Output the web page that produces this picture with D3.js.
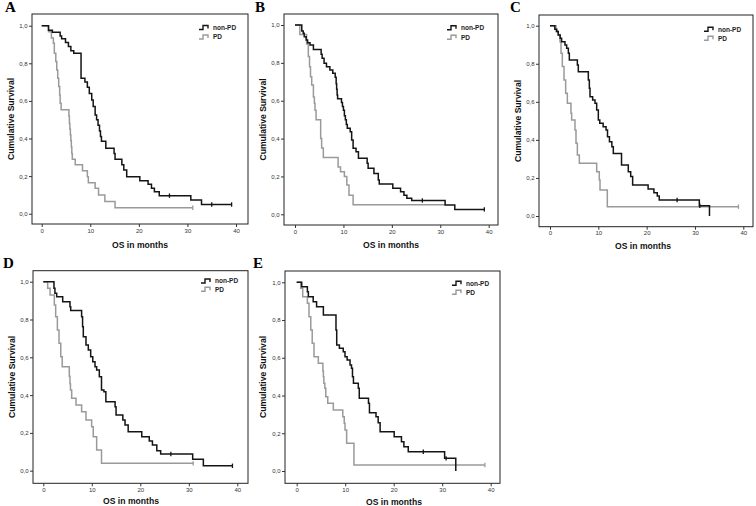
<!DOCTYPE html>
<html><head><meta charset="utf-8">
<script src="https://cdn.jsdelivr.net/npm/d3@7"></script>
<style>body{margin:0;background:#fff}svg{display:block}</style>
</head><body><svg id="c" width="756" height="506"></svg>
<script>
// ---------- data ----------
const xTicks = [0, 10, 20, 30, 40];
const yTicks = [0, 0.2, 0.4, 0.6, 0.8, 1.0];
const seriesNames = ["non-PD", "PD"];
const panelLetters = ["A", "B", "C", "D", "E"];
const xLabel = "OS in months";
const yLabel = "Cumulative Survival";

// [time (months), cumulative survival] at each step
const aNonPD = [[0,1],[1.4,0.976],[2.2,0.965],[3.8,0.945],[4.1,0.93],[4.9,0.91],[5.5,0.89],[6.0,0.867],[6.6,0.853],[8.1,0.72],[8.9,0.70],[9.4,0.672],[9.8,0.64],[10.3,0.605],[10.6,0.57],[11.0,0.525],[11.3,0.50],[11.6,0.47],[11.9,0.44],[12.1,0.41],[12.3,0.385],[13.2,0.348],[14.9,0.32],[15.1,0.29],[16.5,0.26],[16.9,0.232],[17.5,0.197],[20.2,0.175],[21.9,0.157],[22.6,0.135],[23.2,0.117],[24.2,0.096],[30.7,0.073],[32.9,0.049],[39.1,0.049]];
const aPD = [[0,1],[1.4,0.968],[2.0,0.935],[2.4,0.906],[2.6,0.853],[2.9,0.809],[3.1,0.764],[3.3,0.72],[3.5,0.676],[3.7,0.631],[3.8,0.587],[4.0,0.553],[5.6,0.52],[5.7,0.48],[5.8,0.45],[5.9,0.42],[6.0,0.39],[6.1,0.355],[6.2,0.32],[6.3,0.29],[6.9,0.26],[8.4,0.229],[9.4,0.196],[9.6,0.164],[11.0,0.135],[11.7,0.10],[13.0,0.065],[15.1,0.032],[31.1,0.032]];
const aNonPDCens = [26.3, 35.0, 39.1];
const aPDCens = [31.1];

const bNonPD = [[0,1],[1.4,0.968],[1.7,0.956],[1.9,0.938],[2.3,0.921],[2.6,0.906],[3.1,0.894],[3.8,0.87],[5.4,0.845],[5.6,0.824],[6.0,0.798],[6.5,0.78],[7.2,0.762],[7.8,0.745],[8.3,0.724],[8.5,0.69],[8.6,0.66],[8.7,0.63],[8.8,0.61],[9.6,0.59],[9.8,0.57],[10.0,0.55],[10.2,0.52],[10.4,0.50],[10.6,0.475],[10.8,0.454],[11.4,0.436],[11.7,0.392],[12.0,0.349],[12.6,0.331],[13.1,0.296],[14.9,0.27],[15.1,0.243],[16.3,0.216],[17.2,0.181],[17.4,0.16],[20.2,0.137],[21.8,0.119],[22.5,0.10],[23.1,0.085],[24.1,0.073],[31.0,0.049],[33.0,0.026],[39.1,0.026]];
const bPD = [[0,1],[1.0,0.95],[2.4,0.90],[2.75,0.833],[3.0,0.78],[3.2,0.727],[3.45,0.683],[3.8,0.62],[4.0,0.587],[4.13,0.55],[4.35,0.50],[5.3,0.40],[5.5,0.35],[5.85,0.30],[8.9,0.25],[9.4,0.225],[10.2,0.20],[10.7,0.155],[11.15,0.10],[12.0,0.05],[31.0,0.05]];
const bNonPDCens = [26.3, 39.1];
const bPDCens = [];

const cNonPD = [[0,1],[1.0,0.981],[1.4,0.969],[1.7,0.951],[2.1,0.934],[2.4,0.916],[3.1,0.899],[3.45,0.881],[3.8,0.855],[4.0,0.82],[5.66,0.793],[5.86,0.758],[7.93,0.715],[8.14,0.671],[8.28,0.627],[8.83,0.61],[9.31,0.592],[9.66,0.557],[10.0,0.504],[10.3,0.487],[11.0,0.469],[11.6,0.452],[11.9,0.417],[12.3,0.39],[12.8,0.364],[13.1,0.329],[14.8,0.268],[16.2,0.233],[16.7,0.207],[17.1,0.163],[20.3,0.142],[21.5,0.122],[22.2,0.105],[22.6,0.084],[30.9,0.054],[33.0,0]];
const cPD = [[0,1],[1.24,0.969],[1.72,0.951],[2.07,0.916],[2.28,0.855],[2.55,0.785],[2.9,0.715],[3.24,0.645],[3.59,0.592],[4.34,0.54],[4.48,0.504],[5.17,0.452],[5.38,0.382],[5.66,0.32],[6.07,0.277],[9.66,0.233],[10.2,0.189],[10.35,0.137],[11.86,0.049],[39.0,0.049]];
const cNonPDCens = [26.3, 31.0];
const cPDCens = [39.0];

const dNonPD = [[0,1],[2.2,0.965],[2.4,0.939],[2.76,0.921],[4.0,0.894],[5.5,0.868],[5.65,0.847],[7.9,0.815],[8.1,0.762],[8.25,0.709],[8.8,0.665],[9.28,0.638],[9.77,0.603],[10.2,0.577],[10.66,0.55],[11.0,0.533],[11.55,0.497],[12.0,0.427],[12.5,0.418],[12.9,0.365],[14.8,0.339],[15.0,0.295],[16.4,0.268],[16.85,0.242],[17.5,0.206],[20.3,0.18],[21.85,0.157],[22.5,0.136],[23.4,0.106],[24.2,0.088],[30.8,0.06],[33.0,0.026],[39.0,0.026]];
const dPD = [[0,1],[0.9,0.965],[1.4,0.929],[2.27,0.877],[2.55,0.815],[2.9,0.744],[3.24,0.674],[3.6,0.603],[3.9,0.55],[5.36,0.50],[5.5,0.46],[5.6,0.427],[5.85,0.383],[6.74,0.348],[7.9,0.312],[8.8,0.268],[9.97,0.233],[10.3,0.18],[11.0,0.11],[12.0,0.039],[30.9,0.039]];
const dNonPDCens = [26.3, 39.0];
const dPDCens = [30.9];

const eNonPD = [[0,1],[1.03,0.977],[2.2,0.95],[2.4,0.924],[3.4,0.897],[4.1,0.871],[5.5,0.827],[8.1,0.747],[8.25,0.668],[8.8,0.65],[9.6,0.632],[9.96,0.606],[10.4,0.588],[11.0,0.562],[11.3,0.544],[11.5,0.5],[11.7,0.465],[12.7,0.438],[12.9,0.385],[14.8,0.359],[15.0,0.309],[16.35,0.288],[16.8,0.256],[17.2,0.208],[20.1,0.182],[21.6,0.155],[22.1,0.129],[23.0,0.102],[30.5,0.067],[32.8,0]];
const ePD = [[0,1],[0.82,0.968],[1.24,0.924],[2.2,0.889],[2.54,0.818],[2.9,0.747],[3.2,0.677],[3.57,0.606],[4.46,0.571],[5.4,0.53],[5.5,0.50],[5.6,0.465],[5.8,0.438],[6.0,0.394],[6.4,0.359],[7.55,0.323],[9.5,0.288],[9.8,0.253],[9.96,0.217],[10.3,0.147],[11.8,0.032],[38.8,0.032]];
const eNonPDCens = [26.1, 30.8];
const ePDCens = [38.8];

// ---------- layout ----------
const panels = [
  {letter: panelLetters[0], lp:[5,12],   frame:[32,14,248,224],      xr:[41.7,236],   yr:[213.7,25.7], leg:[213,27.5,37],    xlab:[140,248], ylab:[11,119],  non:aNonPD, pd:aPD, nonC:aNonPDCens, pdC:aPDCens},
  {letter: panelLetters[1], lp:[255,12], frame:[284,14,498,225],     xr:[295,488.7],  yr:[214.3,25],   leg:[461,27.7,37.3],  xlab:[391,248], ylab:[263,119.5], non:bNonPD, pd:bPD, nonC:bNonPDCens, pdC:bPDCens},
  {letter: panelLetters[2], lp:[510,12], frame:[539,15,753,226.7],   xr:[550,743.3],  yr:[216,25.7],   leg:[718,29.3,38.3],  xlab:[643,249], ylab:[518,121], non:cNonPD, pd:cPD, nonC:cNonPDCens, pdC:cPDCens},
  {letter: panelLetters[3], lp:[3,268],  frame:[33,270.7,248,483.3], xr:[43.3,237.3], yr:[470.7,281.7],leg:[215,281,289.3],  xlab:[131,504], ylab:[12,377],  non:dNonPD, pd:dPD, nonC:dNonPDCens, pdC:dPDCens},
  {letter: panelLetters[4], lp:[253,268],frame:[285,271,500,483.3],  xr:[296.7,490.7],yr:[471,282.3],  leg:[466,283.3,292.3],xlab:[394,505], ylab:[263,377], non:eNonPD, pd:ePD, nonC:eNonPDCens, pdC:ePDCens}
];

const BLACK = "#141414", GRAY = "#9a9a9a";
const SANS = "'Liberation Sans', Arial, sans-serif";
const svg = d3.select("#c");
svg.append("rect").attr("width",756).attr("height",506).attr("fill","#fff");
const fmt = v => d3.format(".1f")(v).replace(".", ",");

function survAt(series, t) {
  let s = series[0][1];
  for (const [ti, si] of series) { if (ti <= t + 1e-9) s = si; }
  return s;
}

panels.forEach(p => {
  const g = svg.append("g");
  const [fl, ft, fr, fb] = p.frame;
  const x = d3.scaleLinear().domain([0, 40]).range(p.xr);
  const y = d3.scaleLinear().domain([0, 1]).range(p.yr);

  g.append("text").attr("x", p.lp[0]).attr("y", p.lp[1])
    .attr("font-family", "'Liberation Serif','Times New Roman',serif").attr("font-weight", "bold")
    .attr("font-size", 15).attr("fill", "#000").text(p.letter);

  g.append("rect").attr("x", fl).attr("y", ft).attr("width", fr - fl).attr("height", fb - ft)
    .attr("fill", "none").attr("stroke", "#222").attr("stroke-width", 1);

  const ya = g.append("g").attr("transform", `translate(${fl},0)`)
    .call(d3.axisLeft(y).tickValues(yTicks).tickSize(3).tickPadding(1.5).tickFormat(fmt));
  ya.select(".domain").remove();
  ya.selectAll("text").attr("font-family", SANS).attr("font-size", 6).attr("fill", "#333");
  ya.selectAll("line").attr("stroke", "#333");

  const xa = g.append("g").attr("transform", `translate(0,${fb})`)
    .call(d3.axisBottom(x).tickValues(xTicks).tickSize(3).tickPadding(1.5).tickFormat(d3.format("d")));
  xa.select(".domain").remove();
  xa.selectAll("text").attr("font-family", SANS).attr("font-size", 6).attr("fill", "#333");
  xa.selectAll("line").attr("stroke", "#333");

  g.append("text").attr("x", p.xlab[0]).attr("y", p.xlab[1]).attr("text-anchor", "middle")
    .attr("font-family", SANS).attr("font-weight", "bold").attr("font-size", 8.6).attr("fill", "#111").text(xLabel);
  g.append("text").attr("transform", `translate(${p.ylab[0]},${p.ylab[1]}) rotate(-90)`)
    .attr("dy", "0.35em").attr("text-anchor", "middle")
    .attr("font-family", SANS).attr("font-weight", "bold").attr("font-size", 8.6).attr("fill", "#111").text(yLabel);

  const line = d3.line().x(d => x(d[0])).y(d => y(d[1])).curve(d3.curveStepAfter);
  const drawSeries = (data, cens, color) => {
    g.append("path").datum(data).attr("d", line).attr("fill", "none")
      .attr("stroke", color).attr("stroke-width", 1.5);
    g.selectAll(null).data(cens).enter().append("line")
      .attr("x1", d => x(d)).attr("x2", d => x(d))
      .attr("y1", d => y(survAt(data, d)) - 2.2).attr("y2", d => y(survAt(data, d)) + 2.2)
      .attr("stroke", color).attr("stroke-width", 1.3);
  };
  drawSeries(p.pd, p.pdC, GRAY);
  drawSeries(p.non, p.nonC, BLACK);

  // legend
  const legColors = [BLACK, GRAY];
  [p.leg[1], p.leg[2]].forEach((ly, i) => {
    const sx = p.leg[0] - 14;
    g.append("path").attr("d", `M${sx},${ly + 2} H${sx + 4} V${ly - 2} H${sx + 9} V${ly + 1}`)
      .attr("fill", "none").attr("stroke", legColors[i]).attr("stroke-width", 1.4);
    g.append("text").attr("x", p.leg[0]).attr("y", ly).attr("dy", "0.35em")
      .attr("font-family", SANS).attr("font-weight", "bold").attr("font-size", 6.5)
      .attr("fill", "#222").text(seriesNames[i]);
  });
});
</script>
</body></html>
